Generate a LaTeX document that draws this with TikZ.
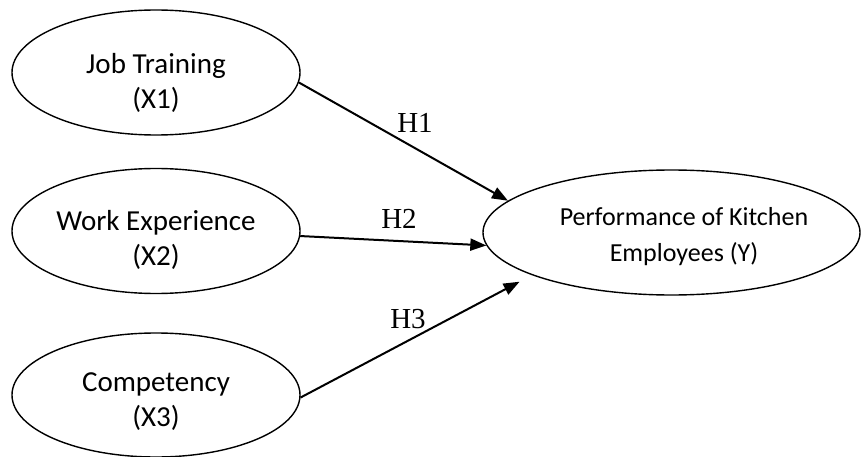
\documentclass[tikz,border=0pt]{standalone}
\usepackage{fontspec}
\setmainfont{Carlito}
\newfontfamily\hfont{Liberation Serif}
\usetikzlibrary{shapes.geometric,arrows.meta}
\tikzset{
  var/.style={draw, ellipse, line width=1.4pt, inner sep=0pt, minimum width=288pt, minimum height=125pt},
  vtext/.style={align=center, inner sep=0pt, font=\fontsize{29}{35}\selectfont},
  ytext/.style={align=center, inner sep=0pt, font=\fontsize{26}{36}\selectfont},
  hyp/.style={inner sep=0pt, font=\hfont\fontsize{29}{33}\selectfont},
  path/.style={line width=2pt, -{Triangle[length=16pt,width=12pt]}}
}
\begin{document}
\begin{tikzpicture}[x=1pt,y=-1pt]
\useasboundingbox (0,0) rectangle (861,457);
\node[var] (x1) at (156,72.5) {};
\node[var] (x2) at (156,231) {};
\node[var, minimum height=124pt] (x3) at (156,395) {};
\node[var, minimum width=377pt] (y) at (671.5,232.5) {};
\node[vtext] (t1) at (156,82.5) {Job Training\\(X1)};
\node[vtext] (t2) at (156,240) {Work Experience\\(X2)};
\node[vtext] (t3) at (156,402) {Competency\\(X3)};
\node[ytext] (ty) at (684,237) {Performance of Kitchen\\Employees (Y)};
\draw[path] (x1.-4) -- (y.169);
\draw[path] (x2.-2) -- (y.184);
\draw[path, shorten >=14pt] (x3.-1) -- (y.197);
\node[hyp] (h1) at (415,123) {H1};
\node[hyp] (h2) at (399,219) {H2};
\node[hyp] (h3) at (408,319) {H3};
\end{tikzpicture}
\end{document}
